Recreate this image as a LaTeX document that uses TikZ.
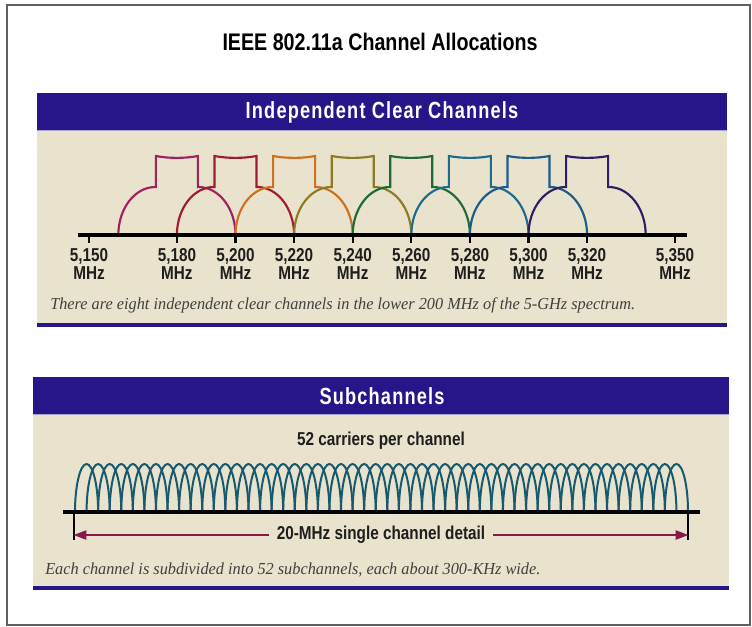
\documentclass[tikz,border=0pt]{standalone}
\usepackage{fontspec}
\setmainfont{Liberation Sans}
\newfontfamily\titlefont[FakeStretch=0.82]{Liberation Sans}
\newfontfamily\headfont[FakeStretch=0.78,LetterSpace=5]{Liberation Sans}
\newfontfamily\labfont[FakeStretch=0.82]{Liberation Sans}
\newfontfamily\capfont[FakeStretch=0.97]{Liberation Serif}
\usetikzlibrary{arrows.meta}
\definecolor{navy}{RGB}{38,22,138}
\definecolor{beige}{RGB}{233,226,204}
\definecolor{frameg}{RGB}{96,96,96}
\definecolor{chA}{RGB}{163,32,95}
\definecolor{chB}{RGB}{160,28,44}
\definecolor{chC}{RGB}{206,112,30}
\definecolor{chD}{RGB}{140,122,36}
\definecolor{chE}{RGB}{28,107,52}
\definecolor{chF}{RGB}{30,108,140}
\definecolor{chG}{RGB}{28,92,140}
\definecolor{chH}{RGB}{44,30,104}
\definecolor{subc}{RGB}{22,90,112}
\definecolor{arrc}{RGB}{138,24,76}
\definecolor{txt}{RGB}{30,30,30}
\tikzset{
  chan/.style={line width=1.6pt},
  subarc/.style={line width=1.5pt,subc},
  axisline/.style={line width=3pt,black},
  tickline/.style={line width=1.6pt,black},
  headtext/.style={text=white,font=\headfont\bfseries\fontsize{17.5}{20}\selectfont},
  lab/.style={text=txt,font=\labfont\bfseries\fontsize{14}{13.5}\selectfont,align=center,anchor=north,inner sep=0pt},
  bodytext/.style={text=txt,font=\labfont\bfseries\fontsize{14}{16}\selectfont},
  captext/.style={text=txt!85!white,font=\capfont\itshape\fontsize{12.6}{14}\selectfont,inner sep=0pt},
  dimarrow/.style={line width=2.2pt,arrc,-{Triangle[length=10pt,width=6.5pt]}}
}
\begin{document}
\begin{tikzpicture}[x=0.75pt,y=0.75pt]
\useasboundingbox (0,0) rectangle (752,-626);
\fill[white] (0,0) rectangle (752,-626);
\draw[frameg,line width=1.2pt] (7,-5) rectangle (750,-625);
% title
\node[font=\titlefont\bfseries\fontsize{18}{20}\selectfont,text=black] (title) at (380,-42) {IEEE 802.11a Channel Allocations};
% top panel
\fill[beige] (37,-131) rectangle (727,-323);
\fill[navy] (37,-93) rectangle (727,-131);
\draw[navy!40!white,line width=0.6pt] (37,-130.6) -- (727,-130.6);
\fill[navy] (37,-323) rectangle (727,-327);
\node[headtext] (h1) at (382,-112) {Independent Clear Channels};
% channels
\foreach \f/\col in {5180/chA,5200/chB,5220/chC,5240/chD,5260/chE,5280/chF,5300/chG,5320/chH}{
  \pgfmathsetmacro\c{89+(\f-5150)*2.93}
  \draw[chan,\col] (\c-58.6,-235) arc[start angle=180,end angle=90,x radius=37,y radius=48]
     -- (\c-21,-187) -- (\c-21,-156) .. controls (\c-8,-158.5) and (\c+8,-158.5) .. (\c+21,-156)
     -- (\c+21,-187) -- (\c+21.6,-187) arc[start angle=90,end angle=0,x radius=37,y radius=48];
}
\draw[axisline] (78,-235) -- (687,-235);
\foreach \f/\t in {5150/{5,150},5180/{5,180},5200/{5,200},5220/{5,220},5240/{5,240},5260/{5,260},5280/{5,280},5300/{5,300},5320/{5,320},5350/{5,350}}{
  \pgfmathsetmacro\c{89+(\f-5150)*2.93}
  \draw[tickline] (\c,-235) -- (\c,-243);
  \node[lab] (l\f) at (\c,-248) {\t\\MHz};
}
\node[captext,anchor=base west] (cap1) at (50,-309) {There are eight independent clear channels in the lower 200 MHz of the 5-GHz spectrum.};
% bottom panel
\fill[beige] (33,-415) rectangle (729,-586);
\fill[navy] (33,-377) rectangle (729,-415);
\draw[navy!40!white,line width=0.6pt] (33,-414.6) -- (729,-414.6);
\fill[navy] (33,-586) rectangle (729,-590);
\node[headtext] (h2) at (382,-396) {Subchannels};
\node[bodytext] (carriers) at (381,-441) {52 carriers per channel};
\foreach \i in {0,...,51}{
  \draw[subarc] ({75+\i*11.566},-512) arc[start angle=180,end angle=0,x radius=11.566,y radius=48];
}
\draw[axisline] (63,-512) -- (700,-512);
\draw[line width=2pt,black] (74,-512) -- (74,-540);
\draw[line width=2pt,black] (688,-512) -- (688,-540);
\coordinate (tipL) at (73,-535);
\coordinate (tipR) at (689,-535);
\node[bodytext,inner xsep=6pt] (detail) at (381,-535) {20-MHz single channel detail};
\draw[dimarrow] (detail.west) -- (tipL);
\draw[dimarrow] (detail.east) -- (tipR);
\node[captext,anchor=base west] (cap2) at (45,-574) {Each channel is subdivided into 52 subchannels, each about 300-KHz wide.};
\end{tikzpicture}
\end{document}
